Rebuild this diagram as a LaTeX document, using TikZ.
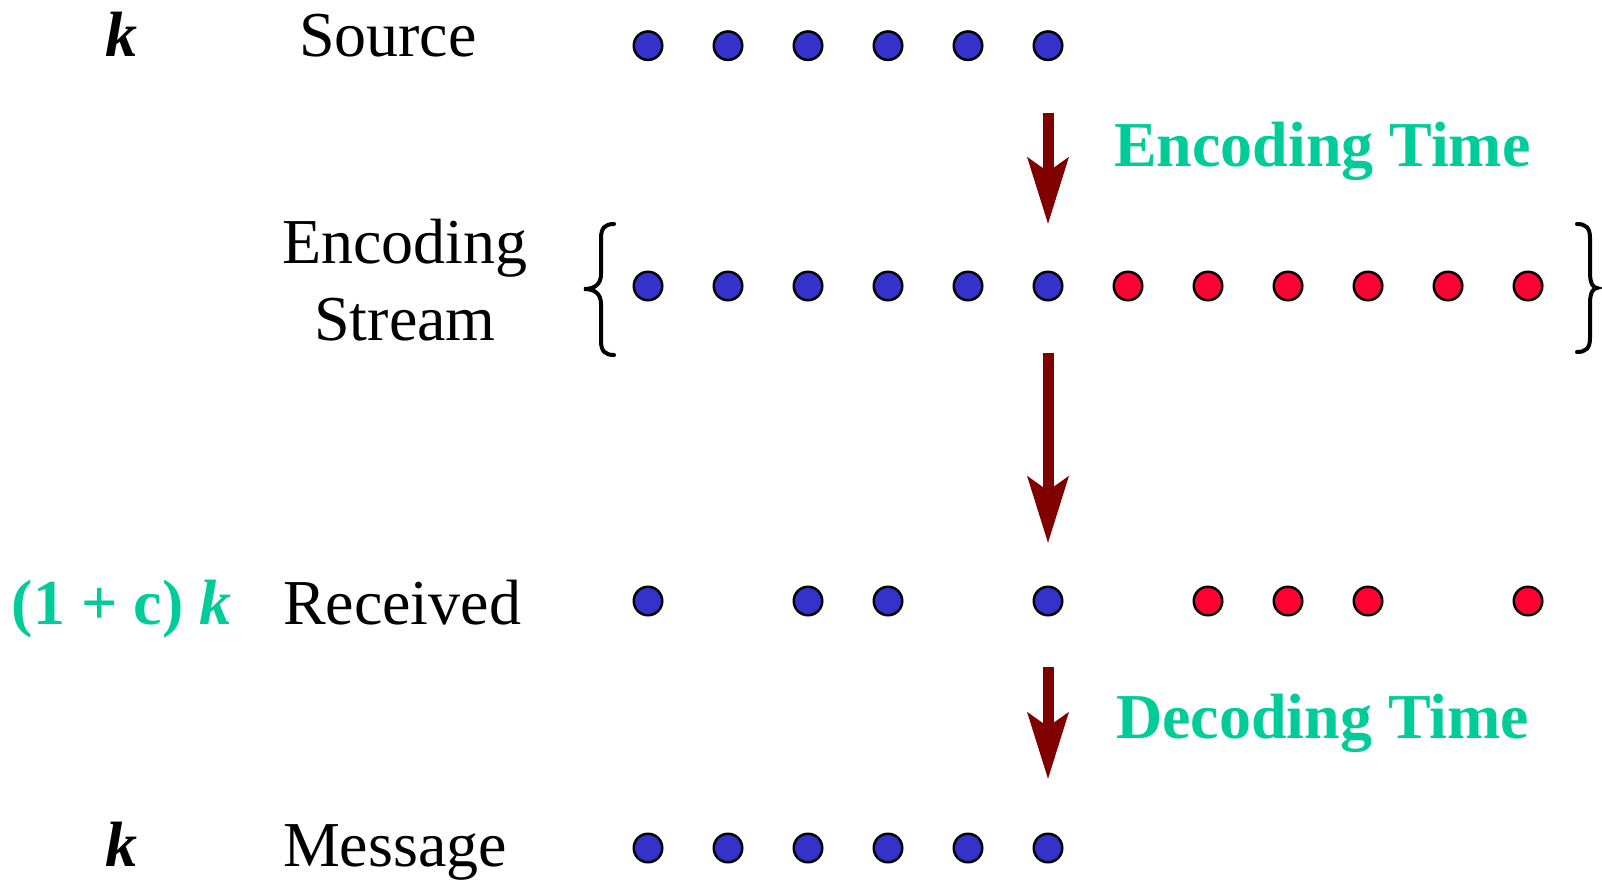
\documentclass[tikz,border=0pt]{standalone}
\usepackage{fontspec}
\setmainfont{Liberation Serif}
\usetikzlibrary{arrows.meta}
\definecolor{dotblue}{RGB}{51,51,204}
\definecolor{dotred}{RGB}{255,0,51}
\definecolor{timegreen}{RGB}{0,204,153}
\definecolor{flowred}{RGB}{128,0,0}

\begin{document}
\begin{tikzpicture}[x=1pt,y=-1pt,
  every node/.style={inner sep=0pt, outer sep=0pt},
  lbl/.style={font=\fontsize{64}{76}\selectfont},
  timelbl/.style={font=\fontsize{64}{76}\selectfont\bfseries, text=timegreen},
  bit/.style={circle, draw=black, line width=2.5pt, minimum size=28.5pt},
  srcbit/.style={bit, fill=dotblue},
  chkbit/.style={bit, fill=dotred},
  flow/.style={draw=flowred, line width=11pt,
    -{Stealth[length=67pt, width=42pt, inset=15pt, line width=0pt, fill=flowred]}},
  bracket/.style={line width=4pt, line cap=round}]

\useasboundingbox (0,0) rectangle (1602,884);

% row labels
\node[lbl, anchor=base] (k1) at (121,56) {\textbf{\textit{k}}};
\node[lbl, anchor=base west] (src) at (299,56) {Source};
\node[lbl, anchor=base] (enc) at (405,263) {Encoding};
\node[lbl, anchor=base] (strm) at (405,340) {Stream};
\node[lbl, anchor=base west, text=timegreen] (rate) at (12,624) {\textbf{(1 + c) \textit{k}}};
\node[lbl, anchor=base west] (rcv) at (283,624) {Received};
\node[lbl, anchor=base] (k2) at (121,866) {\textbf{\textit{k}}};
\node[lbl, anchor=base west] (msg) at (283,866) {Message};

% stage labels
\node[timelbl, anchor=base west] (et) at (1114,166) {Encoding Time};
\node[timelbl, anchor=base west] (dt) at (1116,738) {Decoding Time};

% source symbols
\foreach \i in {0,...,5}
  \node[srcbit] (s\i) at ({648+80*\i},45.7) {};

% encoded stream: source symbols followed by check symbols
\foreach \i in {0,...,5}
  \node[srcbit] (e\i) at ({648+80*\i},286) {};
\foreach \i in {6,...,11}
  \node[chkbit] (e\i) at ({648+80*\i},286) {};

% received symbols
\foreach \i in {0,2,3,5}
  \node[srcbit] (r\i) at ({648+80*\i},601) {};
\foreach \i in {7,8,9,11}
  \node[chkbit] (r\i) at ({648+80*\i},601) {};

% decoded message
\foreach \i in {0,...,5}
  \node[srcbit] (m\i) at ({648+80*\i},848) {};

% braces around the stream
\draw[bracket] (614,224) .. controls (605,224) and (601,228) .. (601,238)
  -- (601,274) .. controls (601,284) and (595,289) .. (584,289)
  .. controls (595,289) and (601,294) .. (601,304)
  -- (601,341) .. controls (601,351) and (605,355) .. (614,355);
\draw[bracket] (1577,224) .. controls (1586,224) and (1590,228) .. (1590,238)
  -- (1590,273) .. controls (1590,283) and (1593,288) .. (1597,288)
  .. controls (1593,288) and (1590,293) .. (1590,303)
  -- (1590,338) .. controls (1590,348) and (1586,352) .. (1577,352);

% flow arrows
\draw[flow] ([yshift=-53pt]s5.south) -- ([yshift=48pt]e5.north);
\draw[flow] ([yshift=-53pt]e5.south) -- ([yshift=44pt]r5.north);
\draw[flow] ([yshift=-52pt]r5.south) -- ([yshift=55pt]m5.north);
\end{tikzpicture}
\end{document}
